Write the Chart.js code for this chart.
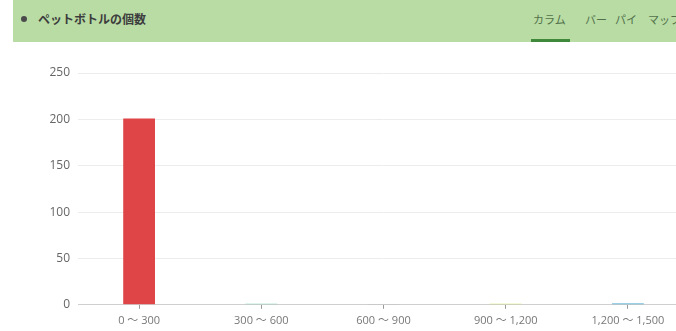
<!DOCTYPE html>
<html><head><meta charset="utf-8">
<script src="https://cdn.jsdelivr.net/npm/chart.js@4"></script>
<style>
html,body{margin:0;padding:0;background:#fff;width:676px;height:331px;overflow:hidden;position:relative;}
#hdr{position:absolute;left:13px;top:0;width:700px;height:42px;background:#b8dca4;font-family:"Noto Sans CJK JP",sans-serif;}
#dot{position:absolute;left:8px;top:16px;width:6px;height:6px;border-radius:3px;background:#4a4a4a;}
#ttl{position:absolute;left:25px;top:10px;font-size:12px;font-weight:bold;color:#3d3d3d;}
.tab{position:absolute;top:11px;font-size:11px;color:#52704a;}
#ul{position:absolute;left:518px;top:39px;width:39px;height:3px;background:#3f8a3a;}
#wrap{position:absolute;left:0;top:44px;width:700px;height:288px;}
</style></head><body>
<div id="hdr"><div id="dot"></div><div id="ttl">ペットボトルの個数</div>
<div class="tab" style="left:520px">カラム</div><div class="tab" style="left:572px">バー</div><div class="tab" style="left:602px">パイ</div><div class="tab" style="left:635px">マップ</div>
<div id="ul"></div></div>
<div id="wrap"><canvas id="c"></canvas></div>
<script>
const categories = ["0 〜 300", "300 〜 600", "600 〜 900", "900 〜 1,200", "1,200 〜 1,500"];
const counts = [201, 1, 0.3, 1, 1.5];
const barColors = ["#df4446", "#7fd0bd", "#b0b0b0", "#d6e46a", "#3a9fcb"];
const yTicks = [0, 50, 100, 150, 200, 250];

new Chart(document.getElementById('c'), {
  type: 'bar',
  data: { labels: categories, datasets: [{ data: counts, backgroundColor: barColors, categoryPercentage: 1, barPercentage: 0.26 }] },
  options: {
    responsive: true, maintainAspectRatio: false, animation: false,
    layout: { padding: { top: 29, right: 11, bottom: 0, left: 0 } },
    plugins: { legend: { display: false }, tooltip: { enabled: false } },
    scales: {
      x: {
        grid: { display: true, offset: false, drawOnChartArea: false, color: '#999', tickLength: 4 },
        border: { color: '#cfcfcf' },
        ticks: { color: '#777', font: { family: 'Open Sans, "Noto Sans CJK JP"', size: 11 }, padding: 5, maxRotation: 0 }
      },
      y: {
        min: 0, max: 250,
        afterBuildTicks: (s) => { s.ticks = yTicks.map(v => ({ value: v })); },
        afterFit: (s) => { s.width = 78; },
        grid: { color: '#ececec', drawTicks: false },
        border: { display: false },
        ticks: { color: '#666', font: { family: 'Open Sans', size: 12 }, padding: 8 }
      }
    }
  }
});
</script></body></html>
